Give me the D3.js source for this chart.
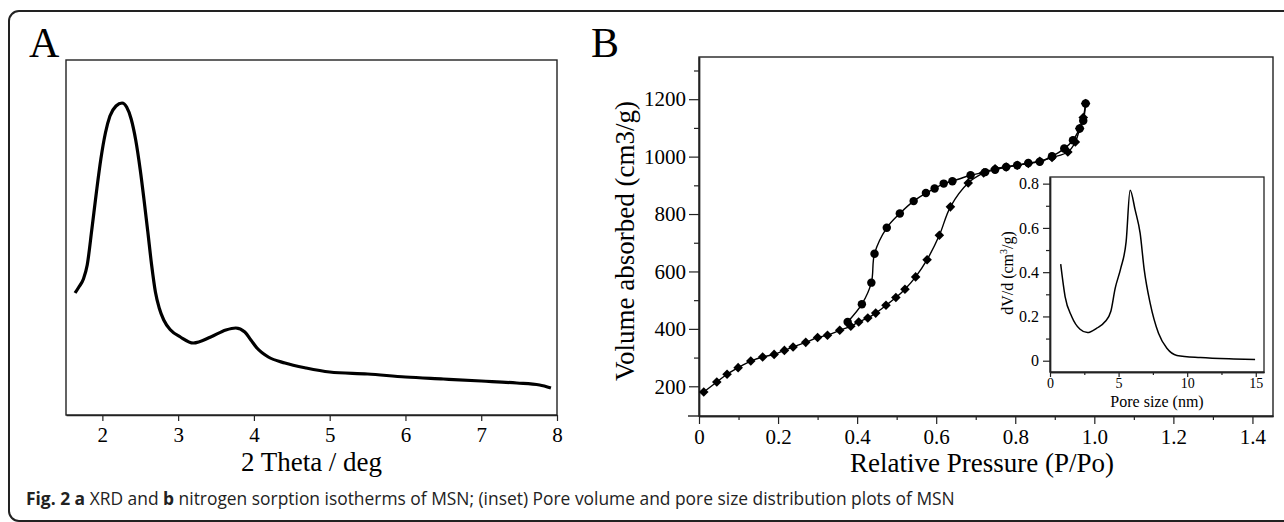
<!DOCTYPE html>
<html>
<head>
<meta charset="utf-8">
<script src="https://cdn.jsdelivr.net/npm/d3@7"></script>
<style>
	body { margin: 0; background: #fff; }
	svg { display: block; font-family: 'Liberation Serif', 'Times New Roman', serif; }
	svg .tick text { font-family: 'Liberation Serif', 'Times New Roman', serif; }
</style>
</head>
<body>
<div id="figure"></div>
<script>
// panel A: XRD pattern, intensity in arbitrary units
const xrdTheta = [1.64, 1.69, 1.75, 1.8, 1.86, 1.92, 1.98, 2.04, 2.1, 2.18, 2.26, 2.32, 2.38, 2.44, 2.5, 2.55, 2.6, 2.65, 2.7, 2.75, 2.81, 2.9, 3.03, 3.2, 3.43, 3.63, 3.76, 3.88, 3.96, 4.04, 4.19, 4.41, 4.69, 5.0, 5.5, 6.0, 6.5, 7.0, 7.47, 7.77, 7.92];
const xrdIntensity = [122, 128, 136, 150, 185, 222, 256, 282, 299, 309, 312, 308, 296, 275, 245, 215, 183, 150, 123, 107, 95, 85, 78, 72, 78, 85, 87, 83, 75, 67, 58, 52, 47, 43, 41, 38, 36, 34, 32, 30, 27];

// panel B: nitrogen sorption isotherms
const adsPressure = [0.012, 0.045, 0.071, 0.099, 0.131, 0.161, 0.19, 0.216, 0.238, 0.27, 0.3, 0.325, 0.356, 0.384, 0.404, 0.427, 0.447, 0.473, 0.498, 0.521, 0.548, 0.577, 0.608, 0.636, 0.681, 0.72, 0.749, 0.777, 0.805, 0.833, 0.862, 0.893, 0.933, 0.952, 0.963, 0.972, 0.978];
const adsVolume = [180, 215, 242, 265, 288, 302, 311, 325, 337, 353, 370, 378, 395, 409, 424, 438, 455, 482, 509, 538, 581, 641, 726, 825, 908, 943, 958, 964, 970, 976, 984, 997, 1016, 1051, 1098, 1136, 1185];
const desPressure = [0.376, 0.412, 0.436, 0.444, 0.475, 0.508, 0.543, 0.574, 0.596, 0.619, 0.641, 0.687, 0.724, 0.749, 0.777, 0.805, 0.833, 0.862, 0.893, 0.924, 0.946, 0.963, 0.972, 0.978];
const desVolume = [424, 486, 561, 662, 752, 802, 845, 873, 889, 906, 914, 935, 946, 954, 964, 970, 978, 982, 1001, 1028, 1057, 1098, 1125, 1185];

// inset: pore size distribution
const poreSize = [0.78, 1.1, 1.58, 2.19, 2.73, 3.41, 4.02, 4.43, 4.75, 5.16, 5.55, 5.84, 6.21, 6.57, 6.87, 7.3, 7.91, 8.52, 9.25, 10.96, 13.4, 14.95];
const poreVolume = [0.436, 0.29, 0.2, 0.142, 0.127, 0.147, 0.177, 0.222, 0.327, 0.418, 0.538, 0.77, 0.68, 0.576, 0.41, 0.26, 0.124, 0.056, 0.024, 0.014, 0.008, 0.006];

// ticks
const thetaTicks = [2, 3, 4, 5, 6, 7, 8];
const pressureTicks = [0, 0.2, 0.4, 0.6, 0.8, 1.0, 1.2, 1.4];
const pressureMinor = [0.1, 0.3, 0.5, 0.7, 0.9, 1.1, 1.3];
const volumeTicks = [200, 400, 600, 800, 1000, 1200];
const volumeMinor = [300, 500, 700, 900, 1100, 1300];
const poreTicks = [0, 5, 10, 15];
const poreMinor = [2.5, 7.5, 12.5];
const dvTicks = [0, 0.2, 0.4, 0.6, 0.8];
const dvMinor = [0.1, 0.3, 0.5, 0.7];

const serif = "'Liberation Serif', 'Times New Roman', serif";
const ink = '#222';

const svg = d3
	.select('#figure')
	.append('svg')
	.attr('width', 1284)
	.attr('height', 522);

svg.append('rect').attr('width', 1284).attr('height', 522).attr('fill', '#fff');

// outer figure frame (right and bottom sides fall outside the picture)
svg
	.append('rect')
	.attr('x', 9)
	.attr('y', 11)
	.attr('width', 1300)
	.attr('height', 510)
	.attr('rx', 10)
	.attr('fill', 'none')
	.attr('stroke', ink)
	.attr('stroke-width', 2);

const styleAxis = (g, size) => {
	// drop the sans-serif default that d3 puts on the axis group
	g.attr('font-family', null).attr('font-size', null).attr('color', ink);
	g.select('.domain').attr('stroke-width', 1.4);
	g.selectAll('.tick line').attr('stroke-width', 1.2);
	g.selectAll('.tick text')
		.attr('fill', '#000')
		.attr('font-family', serif)
		.attr('font-size', size);
};

const fmtInt = d3.format('d');
const fmtOne = (d) => (d === 0 ? '0' : d3.format('.1f')(d));

// ---------- panel A ----------
const boxA = { left: 66, top: 60, right: 557, bottom: 415 };
const xA = d3.scaleLinear().domain([1.52, 8]).range([boxA.left, boxA.right]);
const yA = d3.scaleLinear().domain([0, 355]).range([boxA.bottom, boxA.top]);

svg
	.append('rect')
	.attr('x', xA.range()[0])
	.attr('y', yA.range()[1])
	.attr('width', xA.range()[1] - xA.range()[0])
	.attr('height', yA.range()[0] - yA.range()[1])
	.attr('fill', 'none')
	.attr('stroke', ink)
	.attr('stroke-width', 1.4);

svg
	.append('g')
	.attr('transform', `translate(0,${boxA.bottom})`)
	.call(d3.axisBottom(xA).tickValues(thetaTicks).tickFormat(fmtInt).tickSize(6).tickPadding(6).tickSizeOuter(0))
	.call((g) => styleAxis(g, 21));

const xrdLine = d3
	.line()
	.x((i) => xA(xrdTheta[i]))
	.y((i) => yA(xrdIntensity[i]))
	.curve(d3.curveMonotoneX);

svg
	.append('path')
	.attr('d', xrdLine(d3.range(xrdTheta.length)))
	.attr('fill', 'none')
	.attr('stroke', '#000')
	.attr('stroke-width', 3.2)
	.attr('stroke-linejoin', 'round');

svg
	.append('text')
	.attr('x', 29)
	.attr('y', 57)
	.attr('font-family', serif)
	.attr('font-size', 42)
	.text('A');

svg
	.append('text')
	.attr('x', (boxA.left + boxA.right) / 2)
	.attr('y', 471)
	.attr('text-anchor', 'middle')
	.attr('font-family', serif)
	.attr('font-size', 27)
	.text('2 Theta / deg');

// ---------- panel B ----------
const boxB = { left: 699, top: 57, right: 1273, bottom: 416 };
const xB = d3.scaleLinear().domain([0, 1.452]).range([boxB.left, boxB.right]);
const yB = d3.scaleLinear().domain([96.5, 1347]).range([boxB.bottom, boxB.top]);

svg
	.append('rect')
	.attr('x', boxB.left)
	.attr('y', boxB.top)
	.attr('width', boxB.right - boxB.left)
	.attr('height', boxB.bottom - boxB.top)
	.attr('fill', 'none')
	.attr('stroke', ink)
	.attr('stroke-width', 1.4);

svg
	.append('g')
	.attr('transform', `translate(0,${boxB.bottom})`)
	.call(d3.axisBottom(xB).tickValues(pressureTicks).tickFormat(fmtOne).tickSize(8).tickPadding(5).tickSizeOuter(0))
	.call((g) => styleAxis(g, 21));
svg
	.append('g')
	.attr('transform', `translate(0,${boxB.bottom})`)
	.call(d3.axisBottom(xB).tickValues(pressureMinor).tickFormat('').tickSize(4).tickSizeOuter(0))
	.call((g) => styleAxis(g, 21));
// the bottom spine runs a little past the y axis, as in the original
svg
	.append('line')
	.attr('x1', boxB.left - 11)
	.attr('x2', boxB.left)
	.attr('y1', boxB.bottom)
	.attr('y2', boxB.bottom)
	.attr('stroke', ink)
	.attr('stroke-width', 1.4);

svg
	.append('g')
	.attr('transform', `translate(${boxB.left},0)`)
	.call(d3.axisLeft(yB).tickValues(volumeTicks).tickFormat(fmtInt).tickSize(10).tickPadding(3).tickSizeOuter(0))
	.call((g) => styleAxis(g, 21));
svg
	.append('g')
	.attr('transform', `translate(${boxB.left},0)`)
	.call(d3.axisLeft(yB).tickValues(volumeMinor).tickFormat('').tickSize(5).tickSizeOuter(0))
	.call((g) => styleAxis(g, 21));

const isoLine = d3.line().curve(d3.curveCatmullRom.alpha(0.5));

const drawBranch = (px, vy, symbol, size, rotate) => {
	svg
		.append('path')
		.attr('d', isoLine(px.map((p, i) => [xB(p), yB(vy[i])])))
		.attr('fill', 'none')
		.attr('stroke', '#000')
		.attr('stroke-width', 1.4);
	svg
		.append('g')
		.selectAll('path')
		.data(px.map((p, i) => ({ p, v: vy[i] })))
		.join('path')
		.attr('d', d3.symbol().type(symbol).size(size))
		.attr('transform', (d) => `translate(${xB(d.p)},${yB(d.v)}) rotate(${rotate})`)
		.attr('fill', '#000');
};

drawBranch(adsPressure, adsVolume, d3.symbolSquare, 46, 45);
drawBranch(desPressure, desVolume, d3.symbolCircle, 56, 0);

svg
	.append('text')
	.attr('x', 591)
	.attr('y', 57)
	.attr('font-family', serif)
	.attr('font-size', 42)
	.text('B');

svg
	.append('text')
	.attr('x', (boxB.left + boxB.right) / 2 - 4)
	.attr('y', 472)
	.attr('text-anchor', 'middle')
	.attr('font-family', serif)
	.attr('font-size', 27)
	.text('Relative Pressure (P/Po)');

svg
	.append('text')
	.attr('transform', 'translate(634,241) rotate(-90)')
	.attr('text-anchor', 'middle')
	.attr('font-family', serif)
	.attr('font-size', 27)
	.text('Volume absorbed (cm3/g)');

// ---------- inset ----------
const boxI = { left: 1050, top: 177, right: 1264, bottom: 372 };
const xI = d3.scaleLinear().domain([0, 15.6]).range([boxI.left, boxI.right]);
const yI = d3.scaleLinear().domain([-0.051, 0.83]).range([boxI.bottom, boxI.top]);

svg
	.append('rect')
	.attr('x', boxI.left)
	.attr('y', boxI.top)
	.attr('width', boxI.right - boxI.left)
	.attr('height', boxI.bottom - boxI.top)
	.attr('fill', '#fff')
	.attr('stroke', ink)
	.attr('stroke-width', 1.3);

svg
	.append('g')
	.attr('transform', `translate(0,${boxI.bottom})`)
	.call(d3.axisBottom(xI).tickValues(poreTicks).tickFormat(fmtInt).tickSize(5).tickPadding(1).tickSizeOuter(0))
	.call((g) => styleAxis(g, 14));
svg
	.append('g')
	.attr('transform', `translate(0,${boxI.bottom})`)
	.call(d3.axisBottom(xI).tickValues(poreMinor).tickFormat('').tickSize(3).tickSizeOuter(0))
	.call((g) => styleAxis(g, 14));
svg
	.append('g')
	.attr('transform', `translate(${boxI.left},0)`)
	.call(d3.axisLeft(yI).tickValues(dvTicks).tickFormat(fmtOne).tickSize(7).tickPadding(4).tickSizeOuter(0))
	.call((g) => styleAxis(g, 16));
svg
	.append('g')
	.attr('transform', `translate(${boxI.left},0)`)
	.call(d3.axisLeft(yI).tickValues(dvMinor).tickFormat('').tickSize(4).tickSizeOuter(0))
	.call((g) => styleAxis(g, 16));

const poreLine = d3
	.line()
	.x((i) => xI(poreSize[i]))
	.y((i) => yI(poreVolume[i]))
	.curve(d3.curveMonotoneX);

svg
	.append('path')
	.attr('d', poreLine(d3.range(poreSize.length)))
	.attr('fill', 'none')
	.attr('stroke', '#000')
	.attr('stroke-width', 1.5);

svg
	.append('text')
	.attr('x', (boxI.left + boxI.right) / 2)
	.attr('y', 407)
	.attr('text-anchor', 'middle')
	.attr('font-family', serif)
	.attr('font-size', 16)
	.text('Pore size (nm)');

const dvTitle = svg
	.append('text')
	.attr('transform', 'translate(1013,273) rotate(-90)')
	.attr('text-anchor', 'middle')
	.attr('font-family', serif)
	.attr('font-size', 16);
dvTitle.append('tspan').text('dV/d (cm');
dvTitle.append('tspan').attr('font-size', 10).attr('dy', -6).text('3');
dvTitle.append('tspan').attr('dy', 6).text('/g)');

// ---------- caption ----------
const captionParts = [
	{ text: 'Fig. 2 a', bold: true },
	{ text: ' XRD and ', bold: false },
	{ text: 'b', bold: true },
	{ text: ' nitrogen sorption isotherms of MSN; (inset) Pore volume and pore size distribution plots of MSN', bold: false },
];

svg
	.append('text')
	.attr('x', 26)
	.attr('y', 505)
	.attr('font-family', "'Open Sans', 'Noto Sans', sans-serif")
	.attr('font-size', 17.4)
	.attr('fill', '#222')
	.selectAll('tspan')
	.data(captionParts)
	.join('tspan')
	.attr('font-weight', (d) => (d.bold ? 700 : 400))
	.text((d) => d.text);
</script>
</body>
</html>
